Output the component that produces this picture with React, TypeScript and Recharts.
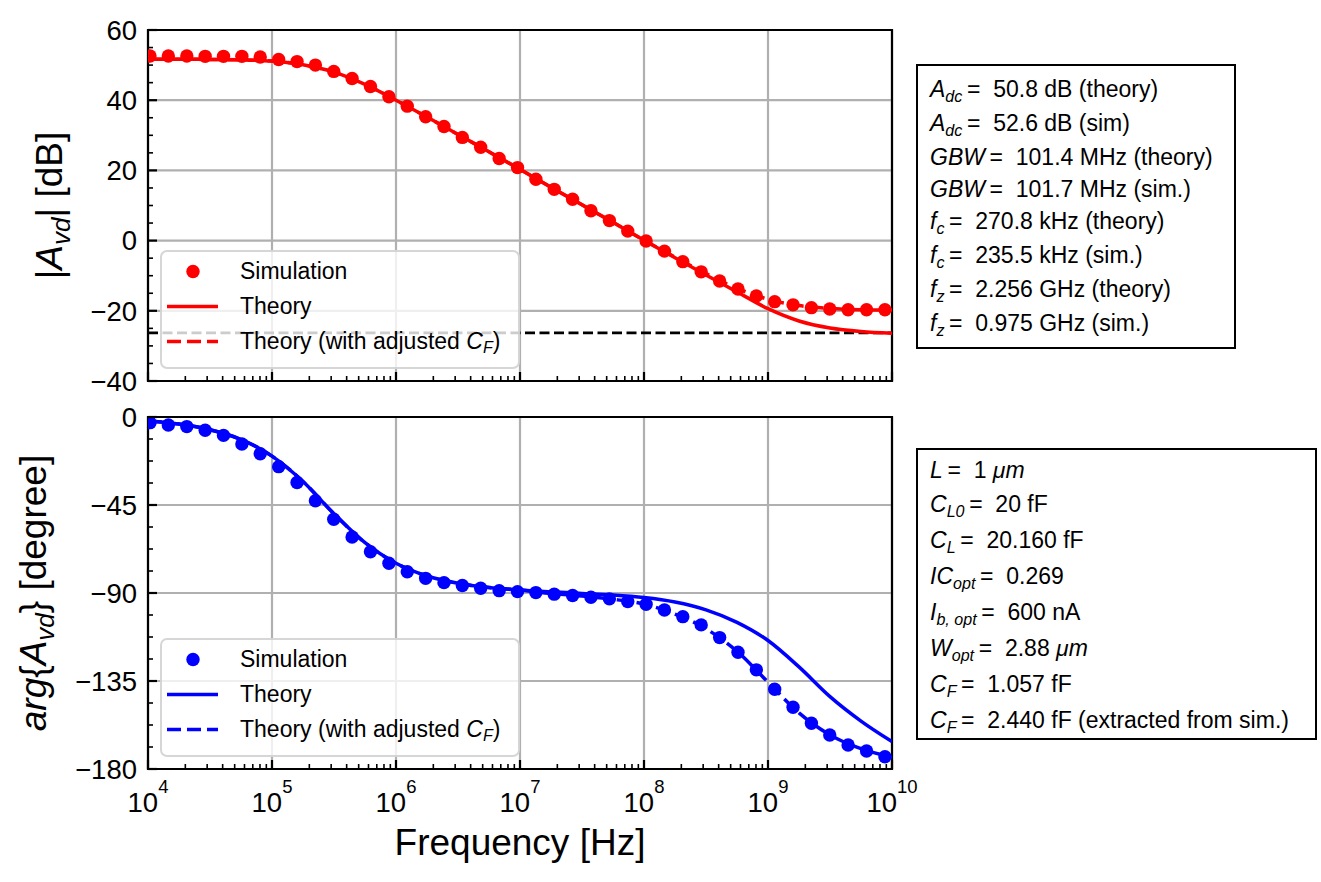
import React from "react";
import {
  ComposedChart,
  Line,
  XAxis,
  YAxis,
  CartesianGrid,
  ReferenceLine,
  ReferenceArea,
  Legend,
} from "recharts";

const FONT = '"Liberation Sans", Arial, Helvetica, sans-serif';
const RED = "#ff0000";
const BLUE = "#0000ff";

// simulated sweep points [Hz]
const simFreq = [
  1.038e4, 1.459e4, 2.056e4, 2.891e4, 4.064e4, 5.715e4, 8.035e4, 1.132e5,
  1.592e5, 2.239e5, 3.148e5, 4.426e5, 6.223e5, 8.77e5, 1.233e6, 1.734e6,
  2.438e6, 3.428e6, 4.819e6, 6.792e6, 9.55e6, 1.343e7, 1.888e7, 2.655e7,
  3.733e7, 5.26e7, 7.396e7, 1.04e8, 1.462e8, 2.056e8, 2.891e8, 4.074e8,
  5.728e8, 8.054e8, 1.132e9, 1.592e9, 2.239e9, 3.148e9, 4.426e9, 6.237e9,
  8.77e9,
];
// |Avd| [dB] (sim)
const simMag = [
  52.6, 52.6, 52.6, 52.5, 52.5, 52.5, 52.3, 51.6, 51.0, 50.0, 48.2, 46.2,
  43.9, 41.0, 38.3, 35.3, 32.5, 29.4, 26.6, 23.4, 20.8, 17.5, 14.6, 11.8,
  8.5, 5.7, 2.7, -0.1, -3.0, -6.0, -8.9, -11.5, -13.8, -15.8, -17.4, -18.3,
  -19.1, -19.5, -19.7, -19.7, -19.7,
];
// arg{Avd} [deg] (sim)
const simPhase = [
  -2.9, -4.1, -4.9, -6.8, -9.4, -13.8, -18.8, -25.4, -33.5, -42.8, -52.3,
  -61.4, -68.9, -74.8, -79.1, -82.5, -84.7, -86.2, -87.6, -88.8, -89.3,
  -89.8, -90.6, -91.3, -92.2, -93.0, -94.4, -95.8, -98.7, -102.1, -106.3,
  -112.8, -120.3, -129.3, -139.2, -148.4, -156.6, -162.6, -167.7, -170.8,
  -173.7,
];

// theory curves, quarter-decade points [Hz]
const theoryFreq = [
  1e4, 1.778e4, 3.162e4, 5.623e4, 1e5, 1.778e5, 3.162e5, 5.623e5, 1e6,
  1.778e6, 3.162e6, 5.623e6, 1e7, 1.778e7, 3.162e7, 5.623e7, 1e8, 1.778e8,
  3.162e8, 5.623e8, 1e9, 1.778e9, 3.162e9, 5.623e9, 1e10,
];
const theoryMag = [
  51.7, 51.7, 51.6, 51.5, 51.15, 50.1, 48.0, 44.5, 40.0, 35.2, 30.25, 25.3,
  20.3, 15.2, 10.2, 5.2, 0.1, -4.9, -9.8, -14.6, -19.4, -22.9, -24.9, -25.9,
  -26.4,
];
const theoryMagAdj = [
  51.7, 51.7, 51.6, 51.5, 51.15, 50.1, 48.0, 44.5, 40.0, 35.2, 30.25, 25.3,
  20.3, 15.2, 10.2, 5.2, 0.1, -4.7, -9.4, -13.6, -16.7, -18.5, -19.3, -19.7,
  -19.8,
];
const theoryPhase = [
  -2.0, -3.6, -6.5, -11.5, -20.0, -33.0, -49.5, -64.3, -74.8, -81.3, -85.0,
  -87.2, -88.5, -89.4, -90.2, -91.0, -92.3, -94.6, -98.6, -105.0, -114.3,
  -127.8, -143.0, -155.5, -166.0,
];
const theoryPhaseAdj = [
  -2.0, -3.6, -6.5, -11.5, -20.0, -33.0, -49.5, -64.3, -74.8, -81.3, -85.0,
  -87.2, -88.5, -90.2, -91.6, -93.2, -95.7, -100.8, -108.3, -119.8, -135.6,
  -151.3, -162.6, -169.6, -174.0,
];
const magFloor = -26.3; // black dashed asymptote

// axes
const freqMajor = [1e4, 1e5, 1e6, 1e7, 1e8, 1e9, 1e10];
const freqMinorSteps = [2, 3, 4, 5, 6, 7, 8, 9];
const freqTicks = freqMajor.flatMap((d, i) =>
  i < freqMajor.length - 1 ? [d, ...freqMinorSteps.map((m) => m * d)] : [d]
);
const magTicks = [
  -40, -35, -30, -25, -20, -15, -10, -5, 0, 5, 10, 15, 20, 25, 30, 35, 40, 45,
  50, 55, 60,
];
const magMajor = [-40, -20, 0, 20, 40, 60];
const phaseTicks = [
  -180, -168.75, -157.5, -146.25, -135, -123.75, -112.5, -101.25, -90, -78.75,
  -67.5, -56.25, -45, -33.75, -22.5, -11.25, 0,
];
const phaseMajor = [-180, -135, -90, -45, 0];

// text boxes
const gainInfo = [
  { sym: "A", sub: "dc", text: "50.8 dB (theory)" },
  { sym: "A", sub: "dc", text: "52.6 dB (sim)" },
  { sym: "GBW", sub: "", text: "101.4 MHz (theory)" },
  { sym: "GBW", sub: "", text: "101.7 MHz (sim.)" },
  { sym: "f", sub: "c", text: "270.8 kHz (theory)" },
  { sym: "f", sub: "c", text: "235.5 kHz (sim.)" },
  { sym: "f", sub: "z", text: "2.256 GHz (theory)" },
  { sym: "f", sub: "z", text: "0.975 GHz (sim.)" },
];
const designInfo = [
  { sym: "L", sub: "", text: "1", unit: "μm" },
  { sym: "C", sub: "L0", text: "20 fF" },
  { sym: "C", sub: "L", text: "20.160 fF" },
  { sym: "IC", sub: "opt", text: "0.269" },
  { sym: "I", sub: "b, opt", text: "600 nA" },
  { sym: "W", sub: "opt", text: "2.88", unit: "μm" },
  { sym: "C", sub: "F", text: "1.057 fF" },
  { sym: "C", sub: "F", text: "2.440 fF (extracted from sim.)" },
];

const zip = (xs: number[], ys: number[]) => xs.map((f, i) => ({ f, v: ys[i] }));

const minus = (v: number) => (v < 0 ? "\u2212" + Math.abs(v) : String(v));

function FreqTick(props: any) {
  const { x, y, payload, showLabel } = props;
  const v = payload.value;
  const major = freqMajor.includes(v);
  const exp = Math.round(Math.log10(v));
  return (
    <g>
      <line
        x1={x}
        x2={x}
        y1={y}
        y2={y - (major ? 9 : 5)}
        stroke="#000"
        strokeWidth={major ? 2.2 : 1.6}
      />
      {major && showLabel && (
        <text x={x} y={y + 42.5} textAnchor="middle" fontSize={27.5} fontFamily={FONT} fill="#000">
          10
          <tspan dy={-18.5} fontSize={18.5}>
            {exp}
          </tspan>
        </text>
      )}
    </g>
  );
}

function ValueTick(props: any) {
  const { x, y, payload, majors } = props;
  const v = payload.value;
  const major = majors.includes(v);
  return (
    <g>
      <line
        x1={x}
        x2={x + (major ? 9 : 5)}
        y1={y}
        y2={y}
        stroke="#000"
        strokeWidth={major ? 2.2 : 1.6}
      />
      {major && (
        <text x={x - 11} y={y + 9.8} textAnchor="end" fontSize={27.5} fontFamily={FONT} fill="#000">
          {minus(v)}
        </text>
      )}
    </g>
  );
}

const Sub = ({ children }: { children: React.ReactNode }) => (
  <span style={{ fontSize: "0.7em", position: "relative", top: "0.3em", fontStyle: "italic" }}>
    {children}
  </span>
);

function LegendBox({ color }: { color: string }) {
  const row = (top: number) => ({
    position: "absolute" as const,
    left: 0,
    top,
    height: 35,
    width: "100%",
    display: "flex",
    alignItems: "center",
  });
  const label = { position: "absolute" as const, left: 78 };
  return (
    <div
      style={{
        position: "relative",
        width: 360,
        height: 119,
        boxSizing: "border-box",
        background: "rgba(255,255,255,0.8)",
        border: "2px solid rgba(204,204,204,0.8)",
        borderRadius: 7,
        fontFamily: FONT,
        fontSize: 23,
        color: "#000",
      }}
    >
      <div style={row(1.5)}>
        <svg width={52} height={35} style={{ position: "absolute", left: 5 }}>
          <circle cx={26} cy={17.5} r={6.7} fill={color} />
        </svg>
        <span style={label}>Simulation</span>
      </div>
      <div style={row(36.5)}>
        <svg width={52} height={35} style={{ position: "absolute", left: 5 }}>
          <line x1={0} x2={51} y1={17.5} y2={17.5} stroke={color} strokeWidth={3.5} />
        </svg>
        <span style={label}>Theory</span>
      </div>
      <div style={row(71.5)}>
        <svg width={52} height={35} style={{ position: "absolute", left: 5 }}>
          <line
            x1={0}
            x2={51}
            y1={17.5}
            y2={17.5}
            stroke={color}
            strokeWidth={3.5}
            strokeDasharray="14 6"
          />
        </svg>
        <span style={label}>
          Theory (with adjusted <i>C</i>
          <Sub>F</Sub>)
        </span>
      </div>
    </div>
  );
}

function InfoBox({
  rows,
  left,
  top,
  width,
  height,
  lineHeight,
  padTop,
}: {
  rows: { sym: string; sub: string; text: string; unit?: string }[];
  left: number;
  top: number;
  width: number;
  height: number;
  lineHeight: number;
  padTop: number;
}) {
  return (
    <div
      style={{
        position: "absolute",
        left,
        top,
        width,
        height,
        boxSizing: "border-box",
        border: "2px solid #000",
        background: "#fff",
        paddingLeft: 12,
        paddingTop: padTop,
        fontFamily: FONT,
        fontSize: 23,
        lineHeight: `${lineHeight}px`,
        whiteSpace: "nowrap",
        color: "#000",
      }}
    >
      {rows.map((r, i) => (
        <div key={i}>
          <i>{r.sym}</i>
          {r.sub && <Sub>{r.sub}</Sub>}
          {"\u2009=\u00a0 "}
          {r.text}
          {r.unit && (
            <>
              {" "}
              <i>{r.unit}</i>
            </>
          )}
        </div>
      ))}
    </div>
  );
}

export default function App() {
  const axisCommon = {
    tickSize: 0,
    tickMargin: 0,
    axisLine: false,
    tickLine: false,
    interval: 0 as const,
  };

  return (
    <div
      style={{
        position: "absolute",
        left: 0,
        top: 0,
        width: 1321,
        height: 882,
        background: "#fff",
        fontFamily: FONT,
      }}
    >
      {/* magnitude */}
      <div style={{ position: "absolute", left: 0, top: 0 }}>
        <ComposedChart width={940} height={400} margin={{ top: 30, right: 48, bottom: 0, left: 0 }}>
          <CartesianGrid
            stroke="#b0b0b0"
            strokeWidth={2.2}
            verticalValues={freqMajor}
            horizontalValues={magMajor}
          />
          <XAxis
            dataKey="f"
            type="number"
            scale="log"
            domain={[1e4, 1e10]}
            allowDataOverflow
            ticks={freqTicks}
            height={19}
            {...axisCommon}
            tick={(p: any) => <FreqTick {...p} showLabel={false} />}
          />
          <YAxis
            type="number"
            domain={[-40, 60]}
            allowDataOverflow
            ticks={magTicks}
            width={148}
            {...axisCommon}
            tick={(p: any) => <ValueTick {...p} majors={magMajor} />}
          />
          <ReferenceLine y={magFloor} stroke="#000" strokeWidth={2.8} strokeDasharray="10 4.5" />
          <Line
            data={zip(theoryFreq, theoryMagAdj)}
            dataKey="v"
            type="monotone"
            stroke={RED}
            strokeWidth={3.5}
            strokeDasharray="14 6"
            dot={false}
            activeDot={false}
            isAnimationActive={false}
          />
          <Line
            data={zip(theoryFreq, theoryMag)}
            dataKey="v"
            type="monotone"
            stroke={RED}
            strokeWidth={3.5}
            dot={false}
            activeDot={false}
            isAnimationActive={false}
          />
          <Line
            data={zip(simFreq, simMag)}
            dataKey="v"
            stroke="none"
            dot={{ r: 6.7, fill: RED, stroke: "none" }}
            activeDot={false}
            isAnimationActive={false}
          />
          <ReferenceArea x1={1e4} x2={1e10} y1={-40} y2={60} fill="none" stroke="#000" strokeWidth={2.2} />
          <Legend
            layout="vertical"
            align="center"
            verticalAlign="middle"
            wrapperStyle={{ left: 160, top: 250, width: 360, height: 119 }}
            content={() => <LegendBox color={RED} />}
          />
        </ComposedChart>
      </div>

      {/* phase */}
      <div style={{ position: "absolute", left: 0, top: 400 }}>
        <ComposedChart width={940} height={482} margin={{ top: 17, right: 48, bottom: 0, left: 0 }}>
          <CartesianGrid
            stroke="#b0b0b0"
            strokeWidth={2.2}
            verticalValues={freqMajor}
            horizontalValues={phaseMajor}
          />
          <XAxis
            dataKey="f"
            type="number"
            scale="log"
            domain={[1e4, 1e10]}
            allowDataOverflow
            ticks={freqTicks}
            height={113}
            {...axisCommon}
            tick={(p: any) => <FreqTick {...p} showLabel />}
            label={{
              value: "Frequency [Hz]",
              position: "insideBottom",
              offset: 27,
              fontSize: 37,
              fill: "#000",
              fontFamily: FONT,
            }}
          />
          <YAxis
            type="number"
            domain={[-180, 0]}
            allowDataOverflow
            ticks={phaseTicks}
            width={148}
            {...axisCommon}
            tick={(p: any) => <ValueTick {...p} majors={phaseMajor} />}
          />
          <Line
            data={zip(theoryFreq, theoryPhaseAdj)}
            dataKey="v"
            type="monotone"
            stroke={BLUE}
            strokeWidth={3.5}
            strokeDasharray="14 6"
            dot={false}
            activeDot={false}
            isAnimationActive={false}
          />
          <Line
            data={zip(theoryFreq, theoryPhase)}
            dataKey="v"
            type="monotone"
            stroke={BLUE}
            strokeWidth={3.5}
            dot={false}
            activeDot={false}
            isAnimationActive={false}
          />
          <Line
            data={zip(simFreq, simPhase)}
            dataKey="v"
            stroke="none"
            dot={{ r: 6.7, fill: BLUE, stroke: "none" }}
            activeDot={false}
            isAnimationActive={false}
          />
          <ReferenceArea x1={1e4} x2={1e10} y1={-180} y2={0} fill="none" stroke="#000" strokeWidth={2.2} />
          <Legend
            layout="vertical"
            align="center"
            verticalAlign="middle"
            wrapperStyle={{ left: 160, top: 238, width: 360, height: 119 }}
            content={() => <LegendBox color={BLUE} />}
          />
        </ComposedChart>
      </div>

      {/* y axis titles */}
      <svg
        width={140}
        height={882}
        style={{ position: "absolute", left: 0, top: 0, pointerEvents: "none" }}
        fontFamily={FONT}
      >
        <text x={62} y={205.5} transform="rotate(-90 62 205.5)" textAnchor="middle" fontSize={37} fill="#000">
          |<tspan fontStyle="italic">A</tspan>
          <tspan fontStyle="italic" fontSize={26} dy={8}>
            vd
          </tspan>
          <tspan dy={-8}>| [dB]</tspan>
        </text>
        <text x={46} y={593} transform="rotate(-90 46 593)" textAnchor="middle" fontSize={37} fill="#000">
          <tspan fontStyle="italic">arg</tspan>
          {"{"}
          <tspan fontStyle="italic">A</tspan>
          <tspan fontStyle="italic" fontSize={26} dy={8}>
            vd
          </tspan>
          <tspan dy={-8}>{"}"} [degree]</tspan>
        </text>
      </svg>

      <InfoBox rows={gainInfo} left={916} top={64} width={320} height={285} lineHeight={32} padTop={7} />
      <InfoBox rows={designInfo} left={916} top={448} width={401} height={292} lineHeight={34} padTop={3} />
    </div>
  );
}
